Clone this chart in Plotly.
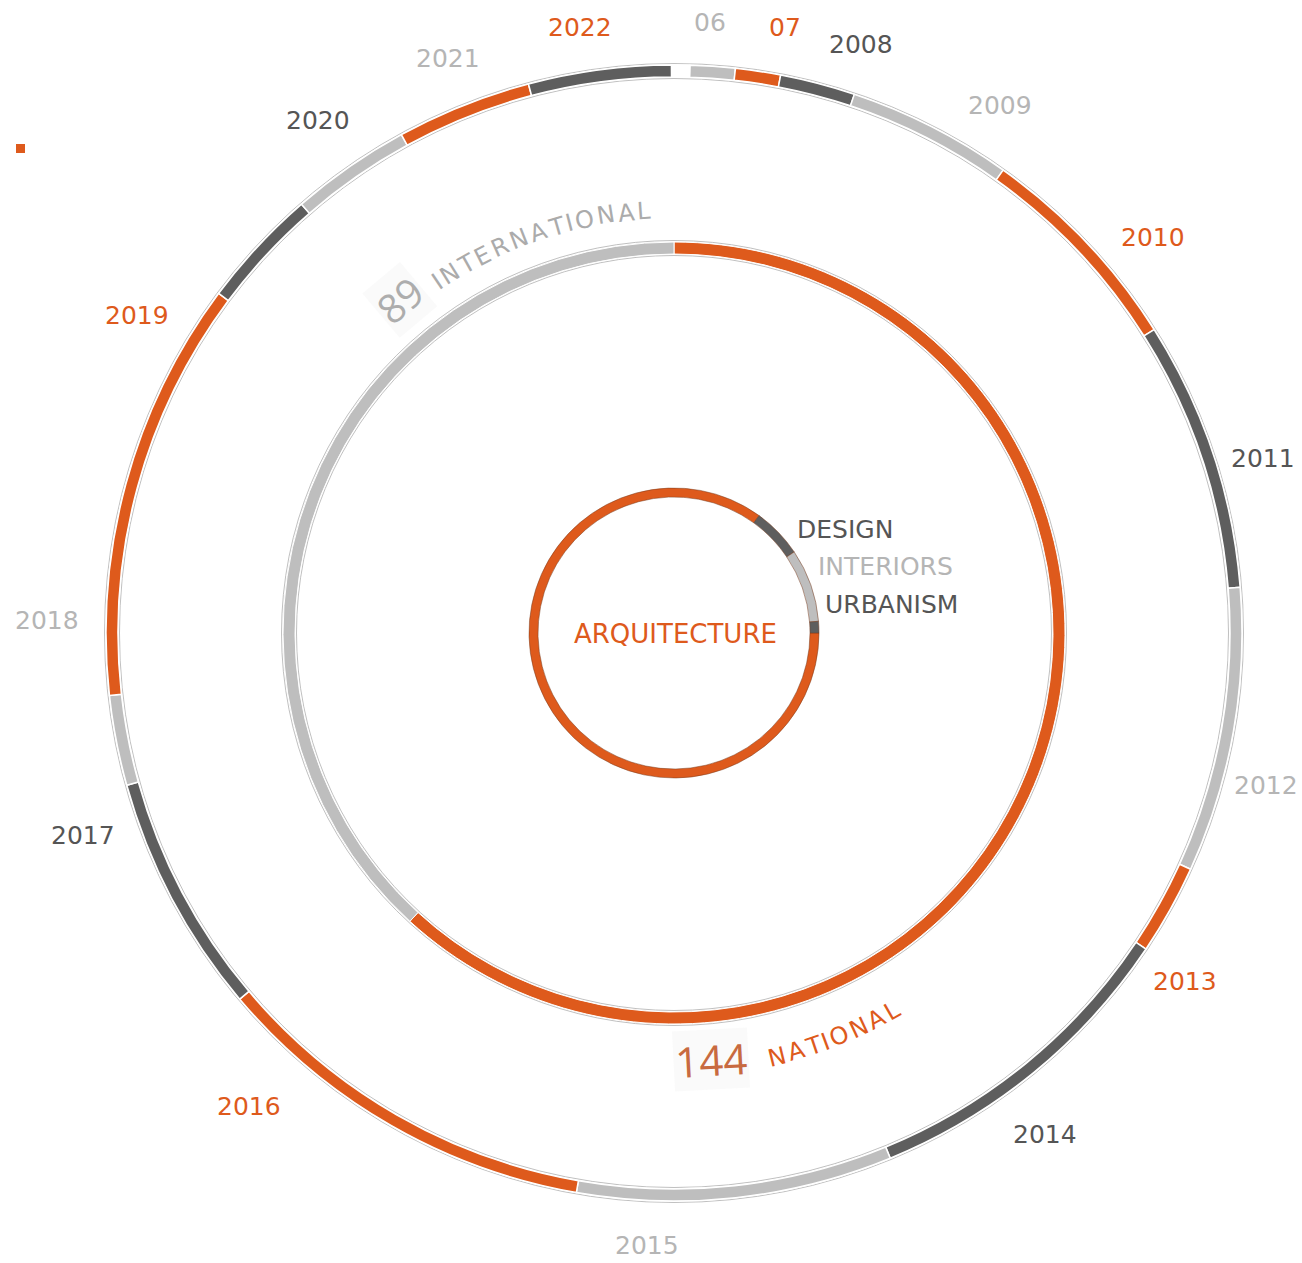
import math
import plotly.graph_objects as go

# ---------------- data ----------------
YEAR_SEGMENTS = ["2006", "2007", "2008", "2009", "2010", "2011", "2012", "2013", "2014",
                 "2015", "2016", "2017", "2018", "2019", "2020", "2021", "2022", "2023"]
YEAR_PROJECTS = [3, 3, 5, 11, 14.5, 18, 19, 6, 22, 21, 26, 16, 6, 28, 8, 8, 9, 9.5]
TOP_GAP = 1.2  # blank space at 12 o'clock

YEAR_LABELS = ["06", "07", "2008", "2009", "2010", "2011", "2012", "2013", "2014",
               "2015", "2016", "2017", "2018", "2019", "2020", "2021", "2022"]

SCOPE = ["NATIONAL", "INTERNATIONAL"]
SCOPE_PROJECTS = [144, 89]

DISCIPLINES = ["ARQUITECTURE", "DESIGN", "INTERIORS", "URBANISM"]
DISCIPLINE_PROJECTS = [198, 13, 19, 3]

# ---------------- style ----------------
W, H = 1302, 1263
CX, CY = 674, 633
ORANGE = "#DE5A1C"
DARK = "#5E5E5E"
LIGHT = "#BEBEBE"
TXT_DARK = "#555555"
TXT_LIGHT = "#B5B5B5"
FONT = "DejaVu Sans"
NUM_FONT = "Open Sans"
CYCLE = [LIGHT, ORANGE, DARK]
TXT_CYCLE = [TXT_LIGHT, ORANGE, TXT_DARK]

# label placement (angle clockwise from 12 o'clock, radius in px)
LABEL_POS = [(3.4, 612), (10.4, 616), (17.6, 617), (31.7, 620), (50.5, 621), (73.5, 614),
             (104.5, 611), (124.3, 618), (143.5, 624), (182.5, 613), (221.9, 636),
             (251.1, 625), (271.1, 627), (300.6, 624), (325.2, 624), (338.5, 618), (351.2, 613)]


def px(x):
    return x / W


def py(y):
    return 1 - y / H


def domain(R):
    return dict(x=[px(CX - R), px(CX + R)], y=[py(CY + R), py(CY - R)])


def polar(theta, r):
    t = math.radians(theta)
    return CX + r * math.sin(t), CY - r * math.cos(t)


fig = go.Figure()

# outer ring: years
R_OUT = 568
fig.add_trace(go.Pie(
    labels=YEAR_SEGMENTS + ["gap"],
    values=YEAR_PROJECTS + [TOP_GAP],
    marker=dict(colors=[CYCLE[i % 3] for i in range(len(YEAR_SEGMENTS))] + ["rgba(0,0,0,0)"],
                line=dict(color="white", width=1.5)),
    hole=556 / R_OUT, sort=False, direction="clockwise", rotation=1.6,
    textinfo="none", hoverinfo="label+value", domain=domain(R_OUT), showlegend=False,
))

# middle ring: national / international
R_MID = 391
fig.add_trace(go.Pie(
    labels=SCOPE, values=SCOPE_PROJECTS,
    marker=dict(colors=[ORANGE, LIGHT], line=dict(color="white", width=1)),
    hole=379 / R_MID, sort=False, direction="clockwise", rotation=0,
    textinfo="none", hoverinfo="label+value", domain=domain(R_MID), showlegend=False,
))

# inner ring: disciplines
R_IN = 145
fig.add_trace(go.Pie(
    labels=DISCIPLINES, values=DISCIPLINE_PROJECTS,
    marker=dict(colors=[ORANGE, DARK, LIGHT, DARK], line=dict(color="rgba(120,60,30,0.5)", width=1)),
    hole=136 / R_IN, sort=False, direction="clockwise", rotation=90,
    textinfo="none", hoverinfo="label+value", domain=domain(R_IN), showlegend=False,
))

shapes = []
for r in (R_OUT + 1.5, 554.5, R_MID + 1.5, 377.5):
    shapes.append(dict(type="circle", xref="paper", yref="paper",
                       x0=px(CX - r), x1=px(CX + r), y0=py(CY + r), y1=py(CY - r),
                       line=dict(color="rgba(165,165,165,0.7)", width=1), layer="below"))
shapes.append(dict(type="rect", xref="paper", yref="paper", x0=px(16), x1=px(25), y0=py(153), y1=py(144),
                   fillcolor=ORANGE, line=dict(width=0)))

annotations = []


def add_text(x, y, text, size, color, angle=0, xanchor="center", bg=None, family=FONT):
    a = dict(x=px(x), y=py(y), xref="paper", yref="paper", text=text, showarrow=False,
             font=dict(family=family, size=size, color=color), textangle=angle,
             xanchor=xanchor, yanchor="middle")
    if bg:
        a["bgcolor"] = bg
    annotations.append(a)


# year labels
for i, lab in enumerate(YEAR_LABELS):
    th, r = LABEL_POS[i]
    x, y = polar(th, r)
    add_text(x, y, lab, 25, TXT_CYCLE[i % 3])

# center labels
add_text(675, 634, DISCIPLINES[0], 26, ORANGE)
add_text(795, 530, DISCIPLINES[1], 25, TXT_DARK, xanchor="left")
add_text(816, 567, DISCIPLINES[2], 25, TXT_LIGHT, xanchor="left")
add_text(823, 604, DISCIPLINES[3], 25, TXT_DARK, xanchor="left")

# curved texts
CW = {"A": .684, "C": .698, "E": .632, "I": .295, "L": .557, "N": .748, "O": .787, "R": .695, "T": .611}


def arc_text(text, r, th0, th1, size, color, bottom=False):
    w = [CW.get(c, .6) for c in text]
    centers = []
    acc = 0
    for wi in w:
        centers.append(acc + wi / 2)
        acc += wi
    c0, c1 = centers[0], centers[-1]
    for ch, c in zip(text, centers):
        th = th0 + (c - c0) / (c1 - c0) * (th1 - th0)
        x, y = polar(th, r)
        add_text(x, y, ch, size, color, angle=(th - 180) if bottom else th)


arc_text(SCOPE[1], 423, -34.0, -4.0, 24, "#ABABAB")
arc_text(SCOPE[0], 436, 166.3, 150.0, 24, ORANGE, bottom=True)

x, y = polar(-39.4, 431)
add_text(x, y, str(SCOPE_PROJECTS[1]), 40, "#ADADAD", angle=-40, bg="rgba(246,246,246,0.6)", family=NUM_FONT)
x, y = polar(175.0, 428)
add_text(x, y, str(SCOPE_PROJECTS[0]), 42, "#C86A40", angle=-3, bg="rgba(246,246,246,0.6)", family=NUM_FONT)

fig.update_layout(
    width=W, height=H, margin=dict(l=0, r=0, t=0, b=0),
    paper_bgcolor="white", plot_bgcolor="white",
    shapes=shapes, annotations=annotations, showlegend=False,
)

fig.write_html("out.html", config={"displayModeBar": False},
               post_script="document.body.style.margin='0';document.body.style.overflow='hidden';")
